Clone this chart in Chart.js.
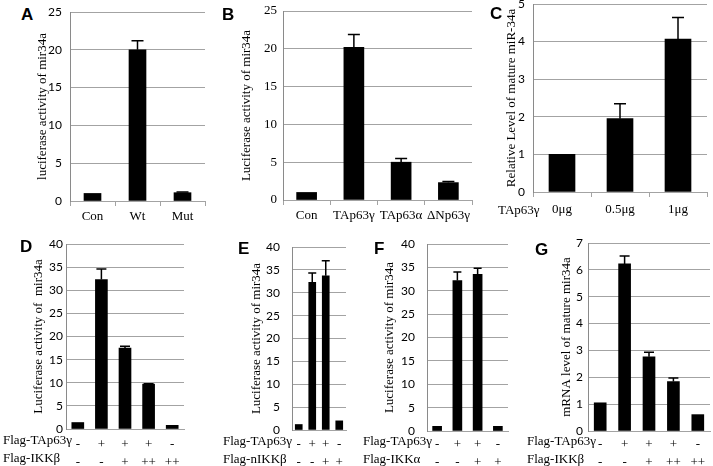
<!DOCTYPE html>
<html>
<head>
<meta charset="utf-8">
<script src="https://cdn.jsdelivr.net/npm/chart.js@4.4.1/dist/chart.umd.min.js"></script>
<style>
  html, body { margin: 0; padding: 0; background: #fff; overflow: hidden; }
  #fig { position: relative; width: 713px; height: 466px; }
  #fig canvas { position: absolute; }
  .letter { position: absolute; font: bold 17px "Liberation Sans", Arial, sans-serif; line-height: 17px; color: #000; }
  .row { position: absolute; font: 13px "Liberation Serif", "Times New Roman", serif; line-height: 18px; color: #000; white-space: nowrap; }
</style>
</head>
<body>
<div id="fig"></div>
<script>
// panel A
const aLabels = ["Con", "Wt", "Mut"];
const aValues = [1.0, 20.0, 1.1];
const aErrors = [0, 1.2, 0.1];
// panel B
const bLabels = ["Con", "TAp63γ", "TAp63α", "ΔNp63γ"];
const bValues = [1.0, 20.2, 5.0, 2.3];
const bErrors = [0, 1.7, 0.5, 0.15];
// panel C
const cLabels = ["0μg", "0.5μg", "1μg"];
const cValues = [1.0, 1.95, 4.07];
const cErrors = [0, 0.4, 0.57];
// panel D
const dTap = ["-", "+", "+", "+", "-"];
const dIkk = ["-", "-", "+", "++", "++"];
const dValues = [1.4, 32.3, 17.5, 9.7, 0.8];
const dErrors = [0, 2.3, 0.4, 0.1, 0];
// panel E
const eTap = ["-", "+", "+", "-"];
const eIkk = ["-", "-", "+", "+"];
const eValues = [1.2, 32.3, 33.7, 2.0];
const eErrors = [0, 2.0, 3.3, 0];
// panel F
const fTap = ["-", "+", "+", "-"];
const fIkk = ["-", "-", "+", "+"];
const fValues = [1.0, 32.2, 33.5, 1.0];
const fErrors = [0, 1.8, 1.3, 0];
// panel G
const gTap = ["-", "+", "+", "+", "-"];
const gIkk = ["-", "-", "+", "++", "++"];
const gValues = [1.05, 6.22, 2.76, 1.84, 0.61];
const gErrors = [0, 0.3, 0.17, 0.13, 0];

const SERIF = "'Liberation Serif', 'Times New Roman', serif";
const SANS = "Lato, 'Liberation Sans', sans-serif";
const GRID = "#a3a3a3";

const fig = document.getElementById("fig");

const errorBars = {
  id: "errorBars",
  afterDatasetsDraw(chart, args, opts) {
    const ctx = chart.ctx;
    const ds = chart.data.datasets[0];
    const y = chart.scales.y;
    const meta = chart.getDatasetMeta(0);
    ctx.save();
    ctx.strokeStyle = "#000";
    ctx.lineWidth = 1.5;
    meta.data.forEach((bar, i) => {
      const e = ds.errors[i];
      if (!e) return;
      const top = y.getPixelForValue(ds.data[i] + e);
      ctx.beginPath();
      ctx.moveTo(bar.x, bar.y);
      ctx.lineTo(bar.x, top);
      ctx.moveTo(bar.x - opts.cap, top);
      ctx.lineTo(bar.x + opts.cap, top);
      ctx.stroke();
    });
    ctx.restore();
  },
};

function stack(a, b) {
  return a.map((v, i) => [v, b[i]]);
}

function addText(cls, text, x, y) {
  const d = document.createElement("div");
  d.className = cls;
  d.textContent = text;
  d.style.left = x + "px";
  d.style.top = y + "px";
  fig.appendChild(d);
}

function makePanel(p) {
  const left = Math.round(p.titleX - 6.5);
  const top = p.top - 10;
  const right = p.right + p.padRight;
  const width = right - left;
  const height = p.bottom - top + p.xHeight;
  const yW = p.left - left;

  const canvas = document.createElement("canvas");
  canvas.width = width;
  canvas.height = height;
  canvas.style.left = left + "px";
  canvas.style.top = top + "px";
  fig.appendChild(canvas);

  new Chart(canvas, {
    type: "bar",
    data: {
      labels: p.labels,
      datasets: [
        {
          data: p.values,
          errors: p.errors,
          backgroundColor: "#000",
          barThickness: p.barWidth,
        },
      ],
    },
    options: {
      responsive: false,
      animation: false,
      events: [],
      layout: { padding: { top: 10, right: p.padRight, bottom: 0, left: 0 } },
      plugins: {
        legend: { display: false },
        tooltip: { enabled: false },
        errorBars: { cap: p.cap },
      },
      scales: {
        x: {
          offset: true,
          afterFit: (s) => { s.height = p.xHeight; },
          grid: {
            display: p.xTicks,
            offset: true,
            drawOnChartArea: false,
            tickLength: 5,
            color: GRID,
          },
          border: { color: GRID },
          ticks: {
            color: "#000",
            autoSkip: false,
            maxRotation: 0,
            padding: p.xPad,
            font: { family: SERIF, size: 13, lineHeight: p.xLine },
          },
        },
        y: {
          min: 0,
          max: p.max,
          afterFit: (s) => { s.width = yW; },
          ticks: {
            stepSize: p.step,
            autoSkip: false,
            color: "#000",
            padding: 0,
            font: p.serifTicks
              ? { family: SERIF, size: 13 }
              : { family: SANS, size: 12 },
          },
          grid: {
            color: GRID,
            tickLength: p.left - p.tickRight,
            tickColor: "rgba(0,0,0,0)",
          },
          border: { color: "#8a8a8a" },
          title: {
            display: true,
            text: p.title,
            color: "#000",
            padding: 0,
            font: { family: SERIF, size: 13, lineHeight: 1 },
          },
        },
      },
    },
    plugins: [errorBars],
  });
}

makePanel({
  labels: aLabels, values: aValues, errors: aErrors,
  title: "luciferase activity of mir34a",
  left: 70, right: 205, top: 12, bottom: 201, titleX: 42, tickRight: 62,
  max: 25, step: 5, barWidth: 17, cap: 6, xTicks: true, xPad: 3, xLine: 1.2,
  xHeight: 30, padRight: 6,
});
makePanel({
  labels: bLabels, values: bValues, errors: bErrors,
  title: "Luciferase activity of mir34a", serifTicks: true,
  left: 283, right: 472, top: 11, bottom: 200, titleX: 246, tickRight: 277,
  max: 25, step: 5, barWidth: 20, cap: 6, xTicks: true, xPad: 3, xLine: 1.2,
  xHeight: 30, padRight: 6,
});
makePanel({
  labels: cLabels, values: cValues, errors: cErrors,
  title: "Relative Level of mature miR-34a",
  left: 533, right: 707, top: 4, bottom: 192, titleX: 511, tickRight: 525,
  max: 5, step: 1, barWidth: 26, cap: 6, xTicks: true, xPad: 5, xLine: 1.2,
  xHeight: 30, padRight: 5,
});
makePanel({
  labels: stack(dTap, dIkk), values: dValues, errors: dErrors,
  title: "Luciferase activity of  mir34a",
  left: 66, right: 184, top: 244, bottom: 429, titleX: 38, tickRight: 63,
  max: 40, step: 5, barWidth: 12, cap: 5, xTicks: false, xPad: 2, xLine: 18 / 13,
  xHeight: 37, padRight: 6,
});
makePanel({
  labels: stack(eTap, eIkk), values: eValues, errors: eErrors,
  title: "Luciferase activity of mir34a",
  left: 292, right: 346, top: 247, bottom: 430, titleX: 256, tickRight: 280,
  max: 40, step: 5, barWidth: 7, cap: 4, xTicks: false, xPad: 1, xLine: 18 / 13,
  xHeight: 36, padRight: 6,
});
makePanel({
  labels: stack(fTap, fIkk), values: fValues, errors: fErrors,
  title: "Luciferase activity of mir34a",
  left: 427, right: 508, top: 244, bottom: 431, titleX: 389, tickRight: 415,
  max: 40, step: 5, barWidth: 9, cap: 4, xTicks: false, xPad: 0, xLine: 18 / 13,
  xHeight: 35, padRight: 6,
});
makePanel({
  labels: stack(gTap, gIkk), values: gValues, errors: gErrors,
  title: "mRNA level of mature mir34a",
  left: 588, right: 710, top: 243, bottom: 431, titleX: 566, tickRight: 583,
  max: 7, step: 1, barWidth: 12, cap: 5, xTicks: false, xPad: 0, xLine: 18 / 13,
  xHeight: 35, padRight: 2,
});

// panel letters and row captions
addText("letter", "A", 21, 6);
addText("letter", "B", 222, 6);
addText("letter", "C", 490, 5);
addText("letter", "D", 20, 238);
addText("letter", "E", 238, 240);
addText("letter", "F", 374, 240);
addText("letter", "G", 535, 241);
addText("row", "TAp63γ", 498, 201);
addText("row", "Flag-TAp63γ", 3, 431);
addText("row", "Flag-IKKβ", 3, 449);
addText("row", "Flag-TAp63γ", 223, 432);
addText("row", "Flag-nIKKβ", 223, 450);
addText("row", "Flag-TAp63γ", 363, 432);
addText("row", "Flag-IKKα", 363, 450);
addText("row", "Flag-TAp63γ", 527, 432);
addText("row", "Flag-IKKβ", 527, 450);
</script>
</body>
</html>
